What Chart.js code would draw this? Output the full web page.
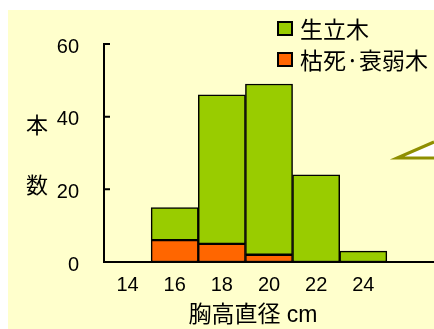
<!DOCTYPE html>
<html>
<head>
<meta charset="utf-8">
<script src="https://cdn.jsdelivr.net/npm/chart.js@4"></script>
<style>
  html, body { margin: 0; padding: 0; background: #fff; }
  #wrap { width: 434px; height: 329px; position: relative; }
</style>
</head>
<body>
<div id="wrap"><canvas id="dbhChart" width="434" height="329"></canvas></div>
<script>
// diameter classes (cm), last one is an empty slot so the axis runs to the edge
const diameterLabels = ['14', '16', '18', '20', '22', '24', ''];
const deadTrees = [null, 6, 5, 2, null, null, null];   // 枯死·衰弱木
const liveTrees = [null, 9, 41, 47, 24, 3, null];      // 生立木 (stacked on top)
const seriesNames = ['枯死·衰弱木', '生立木'];
const yTickStep = 20;
const yMax = 60;

const cjk = '"Noto Sans CJK JP", sans-serif';
const latin = '"Liberation Sans", Arial, "Noto Sans CJK JP", sans-serif';

// yellow panel behind everything
const backdrop = {
  id: 'backdrop',
  beforeDraw(chart) {
    const c = chart.ctx;
    c.save();
    c.fillStyle = '#ffffcc';
    c.fillRect(8, 10, chart.width - 8, chart.height - 10);
    c.restore();
  }
};

// inward tick marks, axis titles, legend, callout corner
const decor = {
  id: 'decor',
  afterDraw(chart) {
    const c = chart.ctx;
    const area = chart.chartArea;
    const y = chart.scales.y;
    c.save();

    c.strokeStyle = '#000';
    c.lineWidth = 2;
    c.beginPath();
    y.ticks.forEach(t => {
      if (t.value === 0) return;
      const py = y.getPixelForValue(t.value);
      c.moveTo(area.left, py);
      c.lineTo(area.left + 6, py);
    });
    c.stroke();

    c.fillStyle = '#000';
    c.textAlign = 'center';
    c.textBaseline = 'middle';
    c.font = '22px ' + cjk;
    c.fillText('本', area.left - 67, 125);
    c.fillText('数', area.left - 67, 185);

    c.font = '23px ' + latin;
    c.fillText('胸高直径 cm', (area.left + area.right) / 2 - 16, 316);

    // legend, top series first
    const ds = chart.data.datasets;
    [ds[1], ds[0]].forEach((d, i) => {
      const top = 21 + i * 31;
      c.fillStyle = '#000';
      c.fillRect(277, top, 16, 15);
      c.fillStyle = d.backgroundColor;
      c.fillRect(279, top + 2, 12, 11);
      c.fillStyle = '#000';
      c.textAlign = 'left';
      c.font = '23px ' + cjk;
      c.fillText(d.label, 300, top + 8);
    });

    // corner of a callout bubble cut off at the right edge
    c.beginPath();
    c.moveTo(434, 142);
    c.lineTo(397, 158);
    c.lineTo(434, 158);
    c.closePath();
    c.fillStyle = '#fff';
    c.fill();
    c.strokeStyle = '#8f8f00';
    c.lineWidth = 3;
    c.beginPath();
    c.moveTo(434, 142);
    c.lineTo(397, 158);
    c.lineTo(434, 158);
    c.stroke();

    c.restore();
  }
};

const ctx = document.getElementById('dbhChart').getContext('2d');

new Chart(ctx, {
  type: 'bar',
  data: {
    labels: diameterLabels,
    datasets: [
      {
        label: seriesNames[0],
        data: deadTrees,
        backgroundColor: '#ff6600',
        borderColor: '#000',
        borderWidth: 1.5,
        borderSkipped: false,
        barPercentage: 1,
        categoryPercentage: 1,
      },
      {
        label: seriesNames[1],
        data: liveTrees,
        backgroundColor: '#99cc00',
        borderColor: '#000',
        borderWidth: 1.5,
        borderSkipped: false,
        barPercentage: 1,
        categoryPercentage: 1,
      },
    ],
  },
  options: {
    responsive: false,
    devicePixelRatio: 1,
    animation: false,
    layout: { padding: { top: 44, left: 0, right: 0, bottom: 0 } },
    plugins: {
      legend: { display: false },
      tooltip: { enabled: false },
    },
    scales: {
      x: {
        stacked: true,
        grid: { display: false },
        border: { display: true, color: '#000', width: 2 },
        ticks: {
          color: '#000',
          padding: 3,
          maxRotation: 0,
          font: { family: latin, size: 20 },
        },
        afterFit(scale) { scale.height = 67; },
      },
      y: {
        stacked: true,
        min: 0,
        max: yMax,
        grid: { display: false },
        border: { display: true, color: '#000', width: 2 },
        ticks: {
          stepSize: yTickStep,
          color: '#000',
          padding: 17,
          labelOffset: 3,
          font: { family: latin, size: 20 },
        },
        afterFit(scale) { scale.width = 104; },
      },
    },
  },
  plugins: [backdrop, decor],
});
</script>
</body>
</html>
